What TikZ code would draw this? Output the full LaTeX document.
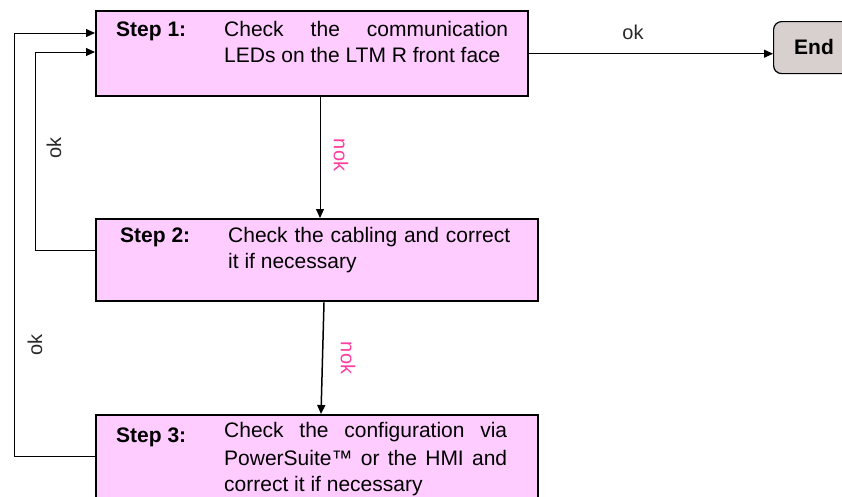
\documentclass[tikz,border=0pt]{standalone}
\usepackage{fontspec}
\setmainfont{Liberation Sans}
\usetikzlibrary{arrows.meta}
\definecolor{boxpink}{RGB}{255,204,255}
\definecolor{endgrey}{RGB}{216,207,207}
\definecolor{nokpink}{RGB}{255,60,160}
\definecolor{lblgrey}{RGB}{40,40,40}
\begin{document}
\begin{tikzpicture}[x=1pt,y=-1pt,
  stepbox/.style={draw=black,line width=2.4pt,fill=boxpink,rectangle,inner sep=0pt,anchor=north west},
  endbox/.style={draw=black,line width=1.2pt,fill=endgrey,rounded corners=8pt,rectangle,inner sep=0pt,anchor=north west},
  txt/.style={anchor=base west,inner sep=0pt,font=\fontsize{21}{26}\selectfont},
  steplbl/.style={txt,font=\fontsize{21}{26}\selectfont\bfseries},
  conn/.style={line width=1pt,-{Triangle[length=9pt,width=8pt]}},
  oklbl/.style={inner sep=0pt,font=\fontsize{20}{24}\selectfont,text=lblgrey},
  noklbl/.style={inner sep=0pt,font=\fontsize{20}{24}\selectfont,text=nokpink,rotate=-90}
]
\useasboundingbox (0,0) rectangle (842,496);
% boxes
\node[stepbox,minimum width=432pt,minimum height=85pt] (s1) at (95,10) {};
\node[stepbox,minimum width=442pt,minimum height=82pt] (s2) at (95,218) {};
\node[stepbox,minimum width=442pt,minimum height=100pt] (s3) at (95,414) {};
\node[endbox,minimum width=100pt,minimum height=52pt] (e) at (773,21) {};
\node[inner sep=0pt,font=\fontsize{21}{26}\selectfont\bfseries] (et) at (814,47) {End};
% texts box 1
\node[steplbl] (s1a) at (116,36) {Step 1:};
\node[txt] (s1b) at (224,36) {\hbox to 284pt{Check\hfill the\hfill communication}};
\node[txt] (s1c) at (224,62) {LEDs on the LTM R front face};
% texts box 2
\node[steplbl] (s2a) at (120,242) {Step 2:};
\node[txt] (s2b) at (228,242) {\hbox to 282pt{Check\hfill the\hfill cabling\hfill and\hfill correct}};
\node[txt] (s2c) at (228,268) {it if necessary};
% texts box 3
\node[steplbl] (s3a) at (116,442) {Step 3:};
\node[txt] (s3b) at (224,437) {\hbox to 283pt{Check\hfill the\hfill configuration\hfill via}};
\node[txt] (s3c) at (224,465) {\hbox to 283pt{PowerSuite™\hfill or\hfill the\hfill HMI\hfill and}};
\node[txt] (s3d) at (224,491) {correct it if necessary};
% connectors
\draw[conn] (s1.east) -- (s1.east -| e.west);
\node[oklbl] (okt) at (633,32) {ok};
\draw[conn] (s1.south -| 320,0) -- (s2.north -| 320,0);
\node[noklbl] (nok1) at (341,155) {nok};
\draw[conn,line width=1.5pt] (s2.south -| 324,0) -- (s3.north -| 321,0);
\node[noklbl] (nok2) at (348,358) {nok};
\draw[conn] (s2.west |- 0,250) -- (35,250) -- (35,52) -- (s1.west |- 0,52);
\node[oklbl,rotate=90] (ok1) at (54,148) {ok};
\draw[conn] (s3.west |- 0,456) -- (14,456) -- (14,33) -- (s1.west |- 0,33);
\node[oklbl,rotate=90] (ok2) at (35,345) {ok};
\end{tikzpicture}
\end{document}
